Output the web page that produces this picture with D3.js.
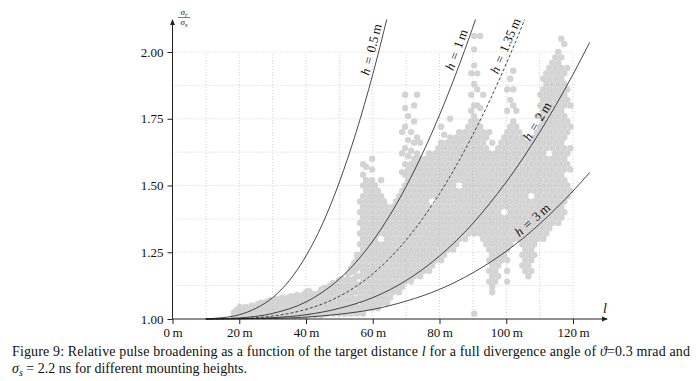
<!DOCTYPE html>
<html>
<head>
<meta charset="utf-8">
<script src="https://cdn.jsdelivr.net/npm/d3@7"></script>
<style>
  body { margin: 0; background: #fff; }
  svg text { font-family: "Liberation Serif", "Times New Roman", serif; fill: #111; }
</style>
</head>
<body>
<svg id="chart" width="696" height="381"></svg>
<script>
// ticks
const xTicks = [0, 20, 40, 60, 80, 100, 120];
const yTicks = [1.00, 1.25, 1.50, 1.75, 2.00];

// model curves  [l (m), sigma_r / sigma_s]
const heights = ["0.5", "1", "1.35", "2", "3"];
const curveH05 = [[10,1.001],[15,1.005],[20,1.016],[25,1.040],[30,1.080],[35,1.144],[40,1.236],[45,1.358],[50,1.513],[55,1.699],[60,1.916],[64.2,2.122]];
const curveH1 = [[10,1.000],[20,1.004],[30,1.021],[40,1.064],[50,1.150],[55,1.213],[60,1.292],[65,1.386],[70,1.496],[75,1.622],[80,1.764],[85,1.921],[90,2.093],[90.8,2.122]];
const curveH135 = [[10,1.000],[20,1.002],[30,1.011],[40,1.036],[50,1.085],[60,1.169],[65,1.227],[70,1.296],[75,1.377],[80,1.469],[85,1.574],[90,1.690],[95,1.817],[100,1.956],[105,2.106],[105.5,2.122]];
const curveH2 = [[10,1.000],[20,1.001],[30,1.005],[40,1.016],[50,1.040],[60,1.080],[70,1.144],[80,1.236],[90,1.358],[95,1.432],[100,1.513],[105,1.602],[110,1.699],[115,1.804],[120,1.916],[125,2.036]];
const curveH3 = [[10,1.000],[20,1.001],[30,1.002],[40,1.007],[50,1.018],[60,1.036],[70,1.067],[80,1.111],[90,1.173],[100,1.254],[105,1.302],[110,1.356],[115,1.415],[120,1.479],[125,1.549]];

// measured points, one row per distance: [l, ratio, ratio, ...]
const lowBand = [
  [18.4,1.01,1.025],[19.3,1.015,1.035],[20.2,1.01,1.03,1.045],[21.1,1.015,1.04],[22.0,1.01,1.03,1.045],
  [22.9,1.015,1.04],[23.8,1.01,1.03,1.05],[24.7,1.015,1.04],[25.6,1.01,1.03,1.055],[26.5,1.015,1.04,1.06],
  [27.4,1.01,1.035,1.06],[28.3,1.015,1.04,1.065],[29.2,1.01,1.035,1.06,1.07],[30.1,1.015,1.04,1.065],
  [31.0,1.01,1.035,1.06,1.075],[31.9,1.015,1.04,1.065],[32.8,1.01,1.035,1.06,1.08],[33.7,1.015,1.04,1.065],
  [34.6,1.01,1.035,1.06,1.08],[35.5,1.015,1.04,1.065,1.085],[36.4,1.01,1.035,1.06,1.08],[37.3,1.015,1.04,1.065,1.09],
  [38.2,1.01,1.035,1.06,1.085],[39.1,1.015,1.04,1.065,1.09],[40.0,1.01,1.035,1.06,1.085,1.10],
  [40.9,1.015,1.04,1.065,1.09,1.105],[41.8,1.02,1.045,1.07,1.095],[42.7,1.015,1.04,1.065,1.09],
  [43.6,1.02,1.045,1.07,1.095],[44.5,1.015,1.04,1.065,1.09,1.11],[45.4,1.02,1.045,1.07,1.095,1.115],
  [46.3,1.02,1.04,1.065,1.09,1.115],[47.2,1.025,1.05,1.075,1.10,1.125],[48.1,1.02,1.045,1.07,1.095,1.12,1.135],
  [49.0,1.025,1.05,1.075,1.10,1.125],[49.9,1.02,1.045,1.07,1.095,1.12,1.145],[50.8,1.025,1.05,1.075,1.10,1.125,1.15],
  [51.7,1.02,1.045,1.07,1.095,1.12,1.145],[52.6,1.025,1.05,1.075,1.10,1.125,1.15,1.17],
  [53.5,1.02,1.045,1.07,1.095,1.12,1.145,1.175,1.19],[54.4,1.025,1.05,1.075,1.10,1.125,1.15,1.18,1.21],
  [55.3,1.02,1.045,1.07,1.10,1.13,1.16,1.19,1.22,1.24]
];
const centralCloud = [
  [56.2,1.04,1.08,1.12,1.16,1.20,1.24,1.28,1.32,1.36,1.40,1.44],
  [57.1,1.02,1.06,1.10,1.14,1.18,1.22,1.26,1.30,1.34,1.38,1.42,1.46,1.50,1.54,1.58],
  [58.0,1.04,1.08,1.12,1.16,1.20,1.24,1.28,1.32,1.36,1.40,1.44,1.48,1.52,1.57],
  [58.9,1.06,1.10,1.14,1.18,1.22,1.26,1.30,1.34,1.38,1.42,1.46,1.50],
  [59.8,1.04,1.08,1.12,1.16,1.20,1.24,1.28,1.32,1.36,1.40,1.44,1.48,1.52,1.56,1.60],
  [60.7,1.06,1.10,1.14,1.18,1.22,1.26,1.30,1.34,1.38,1.42,1.46,1.50],
  [61.6,1.04,1.08,1.12,1.16,1.20,1.24,1.28,1.32,1.36,1.40,1.44,1.48],
  [62.5,1.06,1.10,1.14,1.18,1.22,1.26,1.34,1.38,1.42,1.46,1.52],
  [63.4,1.08,1.12,1.16,1.20,1.24,1.28,1.32,1.36,1.40,1.44],
  [64.3,1.06,1.10,1.14,1.18,1.22,1.26,1.30,1.34,1.38,1.42],
  [65.2,1.08,1.12,1.16,1.20,1.24,1.28,1.32,1.36,1.40],
  [66.1,1.10,1.14,1.18,1.22,1.26,1.30,1.34,1.38,1.42],
  [67.0,1.12,1.16,1.20,1.24,1.28,1.32,1.36,1.40,1.44],
  [67.9,1.10,1.14,1.18,1.22,1.26,1.30,1.34,1.38,1.42,1.46],
  [68.8,1.12,1.16,1.20,1.24,1.28,1.32,1.36,1.40,1.44,1.48,1.55,1.62,1.70],
  [69.7,1.14,1.18,1.22,1.26,1.30,1.34,1.38,1.42,1.46,1.50,1.54,1.58,1.64,1.72,1.79,1.84],
  [70.6,1.16,1.20,1.24,1.28,1.32,1.36,1.40,1.44,1.48,1.52,1.56,1.61,1.67,1.76],
  [71.5,1.14,1.18,1.22,1.26,1.30,1.34,1.38,1.42,1.46,1.50,1.54,1.58,1.63,1.70],
  [72.4,1.16,1.20,1.24,1.28,1.32,1.36,1.40,1.44,1.48,1.52,1.56,1.60,1.66,1.74,1.80],
  [73.3,1.18,1.22,1.26,1.30,1.34,1.38,1.42,1.46,1.50,1.54,1.58,1.62,1.68,1.84],
  [74.2,1.16,1.20,1.24,1.28,1.32,1.36,1.40,1.44,1.48,1.52,1.56,1.60,1.66],
  [75.1,1.18,1.22,1.26,1.30,1.34,1.38,1.42,1.46,1.50,1.54,1.58],
  [76.0,1.20,1.24,1.28,1.32,1.36,1.40,1.44,1.48,1.52,1.56,1.60],
  [76.9,1.18,1.22,1.26,1.30,1.34,1.38,1.42,1.46,1.50,1.54,1.58,1.62],
  [77.8,1.20,1.24,1.28,1.32,1.36,1.40,1.48,1.52,1.56,1.60],
  [78.7,1.22,1.26,1.30,1.34,1.38,1.42,1.46,1.50,1.54,1.58,1.62],
  [79.6,1.24,1.28,1.32,1.36,1.40,1.44,1.48,1.52,1.56,1.60,1.64],
  [80.5,1.22,1.26,1.30,1.34,1.38,1.42,1.46,1.50,1.54,1.58,1.62,1.66,1.72],
  [81.4,1.24,1.28,1.32,1.36,1.40,1.44,1.48,1.52,1.56,1.60,1.64,1.69],
  [82.3,1.26,1.30,1.34,1.38,1.42,1.46,1.50,1.54,1.58,1.62,1.66],
  [83.2,1.28,1.32,1.36,1.40,1.44,1.48,1.52,1.56,1.60,1.64,1.68,1.75],
  [84.1,1.26,1.30,1.34,1.38,1.42,1.46,1.50,1.54,1.58,1.62,1.66],
  [85.0,1.28,1.32,1.36,1.40,1.44,1.48,1.52,1.56,1.60,1.64,1.68],
  [85.9,1.30,1.34,1.38,1.42,1.46,1.54,1.58,1.62,1.66,1.70],
  [86.8,1.32,1.36,1.40,1.44,1.48,1.52,1.56,1.60,1.64,1.68],
  [87.7,1.30,1.34,1.38,1.42,1.46,1.50,1.54,1.58,1.62,1.66,1.70],
  [88.6,1.32,1.36,1.40,1.44,1.48,1.52,1.56,1.60,1.64,1.68,1.72],
  [89.5,1.34,1.38,1.42,1.46,1.50,1.54,1.58,1.62,1.66,1.70,1.74,1.78,1.84,1.92],
  [90.4,1.02,1.32,1.36,1.40,1.44,1.48,1.52,1.56,1.60,1.64,1.68,1.72,1.76,1.80,1.88,1.95,2.01,2.06],
  [91.3,1.34,1.38,1.42,1.46,1.50,1.54,1.58,1.62,1.66,1.70,1.74,1.80,1.86,1.92],
  [92.2,1.32,1.36,1.40,1.44,1.48,1.52,1.56,1.60,1.64,1.68,1.72,1.79,2.06],
  [93.1,1.30,1.34,1.38,1.42,1.46,1.50,1.54,1.58,1.62,1.66,1.70,1.84],
  [94.0,1.28,1.32,1.36,1.40,1.44,1.48,1.52,1.56,1.60,1.64,1.68]
];
const farCloud = [
  [94.9,1.14,1.18,1.22,1.26,1.30,1.34,1.38,1.42,1.46,1.50,1.54,1.58,1.62,1.70],
  [95.8,1.10,1.12,1.16,1.20,1.24,1.28,1.32,1.36,1.40,1.44,1.48,1.52,1.56,1.60,1.66],
  [96.7,1.14,1.18,1.22,1.26,1.30,1.34,1.38,1.42,1.46,1.50,1.54,1.58,1.62],
  [97.6,1.16,1.20,1.24,1.28,1.32,1.36,1.40,1.44,1.48,1.52,1.56,1.60,1.64],
  [98.5,1.22,1.26,1.30,1.34,1.38,1.42,1.46,1.50,1.54,1.58,1.62,1.66],
  [99.4,1.24,1.28,1.32,1.36,1.44,1.48,1.52,1.56,1.60,1.64,1.68],
  [100.3,1.14,1.18,1.22,1.26,1.30,1.34,1.38,1.42,1.46,1.50,1.54,1.58,1.62,1.66,1.70,1.78,1.86],
  [101.2,1.28,1.32,1.36,1.40,1.44,1.48,1.52,1.56,1.60,1.64,1.68,1.72,1.82,1.90],
  [102.1,1.30,1.34,1.38,1.42,1.46,1.50,1.54,1.58,1.62,1.66,1.70,1.74,1.80,1.86,1.93],
  [103.0,1.32,1.36,1.40,1.44,1.48,1.52,1.56,1.60,1.64,1.68,1.72,1.78],
  [103.9,1.30,1.34,1.38,1.42,1.46,1.50,1.54,1.58,1.62,1.66,1.70],
  [104.8,1.20,1.24,1.28,1.32,1.36,1.40,1.44,1.48,1.52,1.56,1.60,1.64,1.68],
  [105.7,1.18,1.22,1.26,1.30,1.34,1.38,1.42,1.46,1.50,1.54,1.58,1.62,1.66],
  [106.6,1.16,1.20,1.24,1.28,1.32,1.36,1.40,1.44,1.48,1.52,1.56,1.60,1.64],
  [107.5,1.18,1.22,1.26,1.30,1.34,1.38,1.42,1.50,1.54,1.58,1.62,1.66],
  [108.4,1.24,1.28,1.32,1.36,1.40,1.44,1.48,1.52,1.56,1.60,1.64,1.68],
  [109.3,1.30,1.34,1.38,1.42,1.46,1.50,1.54,1.58,1.62,1.66,1.70,1.76],
  [110.2,1.32,1.36,1.40,1.44,1.48,1.52,1.56,1.60,1.64,1.68,1.72,1.76,1.80,1.84],
  [111.1,1.30,1.34,1.38,1.42,1.46,1.50,1.54,1.58,1.62,1.66,1.70,1.74,1.78,1.82,1.86,1.90],
  [112.0,1.32,1.36,1.40,1.44,1.48,1.52,1.56,1.60,1.64,1.68,1.72,1.76,1.80,1.84,1.88,1.92],
  [112.9,1.34,1.38,1.42,1.46,1.50,1.54,1.58,1.66,1.70,1.74,1.78,1.82,1.86,1.90,1.94],
  [113.8,1.36,1.40,1.44,1.48,1.52,1.56,1.60,1.64,1.68,1.72,1.76,1.80,1.84,1.88,1.92,1.96],
  [114.7,1.38,1.42,1.46,1.50,1.54,1.58,1.62,1.66,1.70,1.74,1.78,1.82,1.86,1.90,1.94,1.98],
  [115.6,1.36,1.40,1.44,1.48,1.52,1.56,1.60,1.64,1.68,1.72,1.76,1.80,1.84,1.88,1.92,1.96,2.00],
  [116.5,1.38,1.42,1.46,1.50,1.54,1.58,1.62,1.66,1.70,1.74,1.78,1.82,1.86,1.90,1.94,1.98,2.05],
  [117.4,1.40,1.44,1.48,1.52,1.56,1.60,1.64,1.68,1.72,1.76,1.80,1.84,1.88,1.92,2.03],
  [118.3,1.46,1.50,1.58,1.62,1.70,1.74,1.82,1.86,1.94],
  [119.2,1.48,1.56,1.64,1.72,1.80]
];

const svg = d3.select('#chart');
const x = d3.scaleLinear().domain([0, 120]).range([172.5, 573]);
const y = d3.scaleLinear().domain([1, 2]).range([319, 52]);

/// arrow tip for the axes
svg.append('defs').append('marker')
  .attr('id', 'tip').attr('viewBox', '0 0 6 6')
  .attr('refX', 5).attr('refY', 3)
  .attr('markerWidth', 6).attr('markerHeight', 6)
  .attr('markerUnits', 'userSpaceOnUse').attr('orient', 'auto')
  .append('path').attr('d', 'M0,0.6 L6,3 L0,5.4 Z').attr('fill', '#222');

/// scatter of measured points
let points = lowBand.concat(centralCloud, farCloud)
  .flatMap(function(row) { return row.slice(1).map(function(r) { return { l: row[0], r: r }; }); });

svg.append('g').selectAll('circle')
  .data(points)
  .enter().append('circle')
  .attr('cx', function(d) { return x(d.l); })
  .attr('cy', function(d) { return y(d.r); })
  .attr('r', 3.2)
  .attr('fill', '#d4d4d4');

/// dotted grid
let grid = svg.append('g').attr('stroke', '#bdbdbd').attr('stroke-width', 0.7).attr('stroke-dasharray', '1,2');
grid.selectAll('.gx').data(d3.range(10, 121, 10)).enter().append('line')
  .attr('x1', function(d) { return x(d); }).attr('x2', function(d) { return x(d); })
  .attr('y1', y(1)).attr('y2', y(2));
grid.selectAll('.gy').data(d3.range(1.125, 2.001, 0.125)).enter().append('line')
  .attr('x1', x(0)).attr('x2', x(120))
  .attr('y1', function(d) { return y(d); }).attr('y2', function(d) { return y(d); });

/// model curves
let line = d3.line()
  .x(function(d) { return x(d[0]); })
  .y(function(d) { return y(d[1]); })
  .curve(d3.curveMonotoneX);

let curves = [curveH05, curveH1, curveH135, curveH2, curveH3];
let paths = svg.append('g').selectAll('path')
  .data(curves)
  .enter().append('path')
  .attr('d', line)
  .attr('fill', 'none')
  .attr('stroke', '#1a1a1a')
  .attr('stroke-width', 0.8)
  .attr('stroke-dasharray', function(d, i) { return heights[i] === '1.35' ? '3,2' : null; });

/// sloped labels, placed at a distance along each curve
let labelAt = [61.8, 87.3, 101.9, 111.3, 109.4];

function lengthAtX(node, px) {
  let lo = 0, hi = node.getTotalLength();
  for (let k = 0; k < 30; k++) {
    let mid = (lo + hi) / 2;
    if (node.getPointAtLength(mid).x < px) lo = mid; else hi = mid;
  }
  return lo;
}

paths.each(function(d, i) {
  let len = lengthAtX(this, x(labelAt[i]));
  let p = this.getPointAtLength(len);
  let a = this.getPointAtLength(Math.max(0, len - 3));
  let b = this.getPointAtLength(len + 3);
  let angle = Math.atan2(b.y - a.y, b.x - a.x) * 180 / Math.PI;
  let t = svg.append('text')
    .attr('transform', 'translate(' + p.x + ',' + p.y + ') rotate(' + angle + ')')
    .attr('dy', -3.5)
    .attr('text-anchor', 'middle')
    .attr('font-size', 13)
    .style('word-spacing', '1.5px');
  t.append('tspan').attr('font-style', 'italic').text('h');
  t.append('tspan').text(' = ' + heights[i] + '\u2009m');
});

/// axes
let yAxis = svg.append('g').attr('transform', 'translate(' + x(0) + ',0)')
  .call(d3.axisLeft(y).tickValues(yTicks).tickFormat(d3.format('.2f')).tickSize(5).tickPadding(4));
let xAxis = svg.append('g').attr('transform', 'translate(0,' + y(1) + ')')
  .call(d3.axisBottom(x).tickValues(xTicks).tickFormat(function(d) { return d + '\u2009m'; }).tickSize(5).tickPadding(4));

[yAxis, xAxis].forEach(function(ax) {
  ax.select('.domain').remove();
  ax.attr('font-family', null).attr('font-size', 13);
  ax.selectAll('line').attr('stroke', '#222');
  ax.selectAll('text').attr('fill', '#111');
});

svg.append('line').attr('x1', x(0)).attr('y1', y(1)).attr('x2', x(0)).attr('y2', 20)
  .attr('stroke', '#222').attr('stroke-width', 1).attr('marker-end', 'url(#tip)');
svg.append('line').attr('x1', x(0)).attr('y1', y(1)).attr('x2', 607).attr('y2', y(1))
  .attr('stroke', '#222').attr('stroke-width', 1).attr('marker-end', 'url(#tip)');

/// axis names
svg.append('text').attr('x', 603).attr('y', 313).attr('font-size', 14).attr('font-style', 'italic').text('l');

let frac = svg.append('g').attr('font-size', 9).attr('font-style', 'italic');
let num = frac.append('text').attr('x', 184).attr('y', 15).attr('text-anchor', 'middle');
num.append('tspan').text('σ');
num.append('tspan').attr('font-size', 6.5).attr('dy', 2).text('r');
frac.append('line').attr('x1', 178).attr('x2', 190).attr('y1', 17.5).attr('y2', 17.5)
  .attr('stroke', '#222').attr('stroke-width', 0.6);
let den = frac.append('text').attr('x', 184).attr('y', 25).attr('text-anchor', 'middle');
den.append('tspan').text('σ');
den.append('tspan').attr('font-size', 6.5).attr('dy', 2).text('s');

/// caption
let cap1 = svg.append('text').attr('x', 12).attr('y', 356).attr('font-size', 14)
  .attr('textLength', 678).attr('lengthAdjust', 'spacing');
cap1.append('tspan').text('Figure 9: Relative pulse broadening as a function of the target distance ');
cap1.append('tspan').attr('font-style', 'italic').text('l');
cap1.append('tspan').text(' for a full divergence angle of ');
cap1.append('tspan').attr('font-style', 'italic').text('ϑ');
cap1.append('tspan').text('=0.3 mrad and');

let cap2 = svg.append('text').attr('x', 12).attr('y', 373).attr('font-size', 14);
cap2.append('tspan').attr('font-style', 'italic').text('σ');
cap2.append('tspan').attr('font-style', 'italic').attr('font-size', 10).attr('dy', 3).text('s');
cap2.append('tspan').attr('dy', -3).text(' = 2.2 ns for different mounting heights.');
</script>
</body>
</html>
